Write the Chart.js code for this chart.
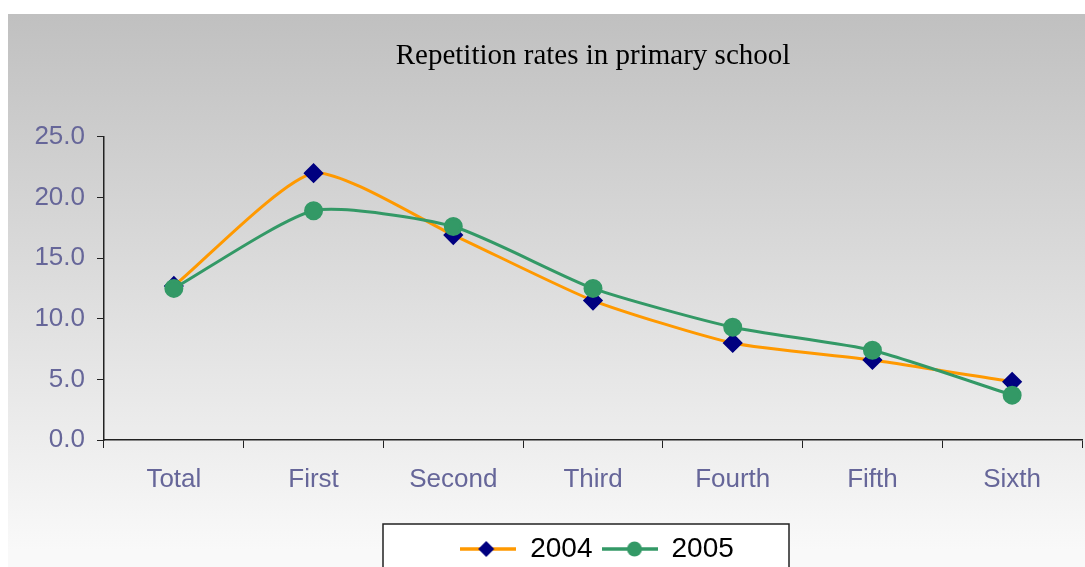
<!DOCTYPE html>
<html>
<head>
<meta charset="utf-8">
<script src="https://cdn.jsdelivr.net/npm/chart.js@4"></script>
<style>
  html, body { margin: 0; padding: 0; background: #fff; overflow: hidden; }
  #wrap {
    position: absolute; left: 8px; top: 14px;
    width: 1077px; height: 559px;
    background: linear-gradient(#c0c0c0, #f9f9f9 96%);
  }
</style>
</head>
<body>
<div id="wrap"><canvas id="chart" width="1077" height="559"></canvas></div>
<script>
// data
const grades = ['Total', 'First', 'Second', 'Third', 'Fourth', 'Fifth', 'Sixth'];
const rates2004 = [12.7, 22.0, 16.9, 11.5, 8.0, 6.6, 4.8];
const rates2005 = [12.5, 18.9, 17.6, 12.5, 9.3, 7.4, 3.7];
const yTicks = [0, 5, 10, 15, 20, 25];

const labelColor = '#666699';

// little line + marker pictures for the legend
function legendIcon(lineColor, markColor, shape) {
    const c = document.createElement('canvas');
    c.width = 56; c.height = 20;
    const g = c.getContext('2d');
    g.strokeStyle = lineColor;
    g.lineWidth = 3.5;
    g.beginPath(); g.moveTo(0, 10); g.lineTo(56, 10); g.stroke();
    g.fillStyle = markColor;
    g.beginPath();
    if (shape === 'diamond') {
        g.moveTo(26, 2); g.lineTo(34, 10); g.lineTo(26, 18); g.lineTo(18, 10);
    } else {
        g.arc(33, 10, 7.5, 0, Math.PI * 2);
    }
    g.closePath(); g.fill();
    return c;
}

const icons = [
    legendIcon('#ff9900', '#000080', 'diamond'),
    legendIcon('#339966', '#339966', 'circle')
];

// white legend frame, plus nudging title and legend right like the original
const legendFrame = {
    id: 'legendFrame',
    afterLayout(chart) {
        chart.legend.left += 104;
        chart.titleBlock.left += 96;
    },
    beforeDraw(chart) {
        const lg = chart.legend;
        const mid = (lg.left + lg.right) / 2 - 11;
        const ctx = chart.ctx;
        ctx.save();
        ctx.fillStyle = '#ffffff';
        ctx.strokeStyle = '#222222';
        ctx.lineWidth = 1.5;
        ctx.fillRect(mid - 203, lg.top - 2, 406, 100);
        ctx.strokeRect(mid - 203, lg.top - 2, 406, 100);
        ctx.restore();
    }
};

const ctx = document.getElementById('chart').getContext('2d');
new Chart(ctx, {
    type: 'line',
    data: {
        labels: grades,
        datasets: [{
            label: '2004',
            data: rates2004,
            borderColor: '#ff9900',
            borderWidth: 3,
            pointStyle: 'rectRot',
            pointRadius: 8,
            pointHoverRadius: 8,
            pointBackgroundColor: '#000080',
            pointBorderColor: '#000080',
            tension: 0.2,
            order: 2
        }, {
            label: '2005',
            data: rates2005,
            borderColor: '#339966',
            borderWidth: 3,
            pointStyle: 'circle',
            pointRadius: 8,
            pointHoverRadius: 8,
            pointBackgroundColor: '#339966',
            pointBorderColor: '#339966',
            tension: 0.2,
            order: 1
        }]
    },
    options: {
        responsive: false,
        animation: false,
        layout: { autoPadding: false, padding: { left: 0, right: 3, top: 0, bottom: 0 } },
        plugins: {
            title: {
                display: true,
                text: 'Repetition rates in primary school',
                color: '#000000',
                font: { family: '"Liberation Serif", "Times New Roman", serif', size: 29, weight: 'normal', lineHeight: 1.2 },
                padding: { top: 25, bottom: 63 }
            },
            legend: {
                position: 'bottom',
                labels: {
                    usePointStyle: true,
                    pointStyleWidth: 56,
                    padding: 9,
                    color: '#000000',
                    font: { family: '"Liberation Sans", Arial, sans-serif', size: 28 },
                    generateLabels: chart => chart.data.datasets.map((ds, i) => ({
                        text: ds.label,
                        pointStyle: icons[i],
                        datasetIndex: i,
                        fillStyle: ds.borderColor,
                        strokeStyle: ds.borderColor,
                        lineWidth: 0,
                        hidden: false
                    }))
                }
            },
            tooltip: { enabled: false }
        },
        scales: {
            x: {
                offset: true,
                afterFit: s => { s.height = 86; s.paddingLeft = 0; s.paddingRight = 0; },
                grid: { offset: true, drawOnChartArea: false, color: '#222222', tickLength: 8 },
                border: { color: '#222222', width: 1.5 },
                ticks: {
                    color: labelColor,
                    padding: 16,
                    font: { family: '"Liberation Sans", Arial, sans-serif', size: 26 }
                }
            },
            y: {
                min: 0,
                max: 25,
                afterFit: s => { s.width = 96; },
                afterBuildTicks: s => { s.ticks = yTicks.map(v => ({ value: v })); },
                grid: { drawOnChartArea: false, color: '#222222', tickLength: 7 },
                border: { color: '#222222', width: 1.5 },
                ticks: {
                    color: labelColor,
                    padding: 12,
                    font: { family: '"Liberation Sans", Arial, sans-serif', size: 26 },
                    callback: v => Number(v).toFixed(1)
                }
            }
        }
    },
    plugins: [legendFrame]
});
</script>
</body>
</html>
